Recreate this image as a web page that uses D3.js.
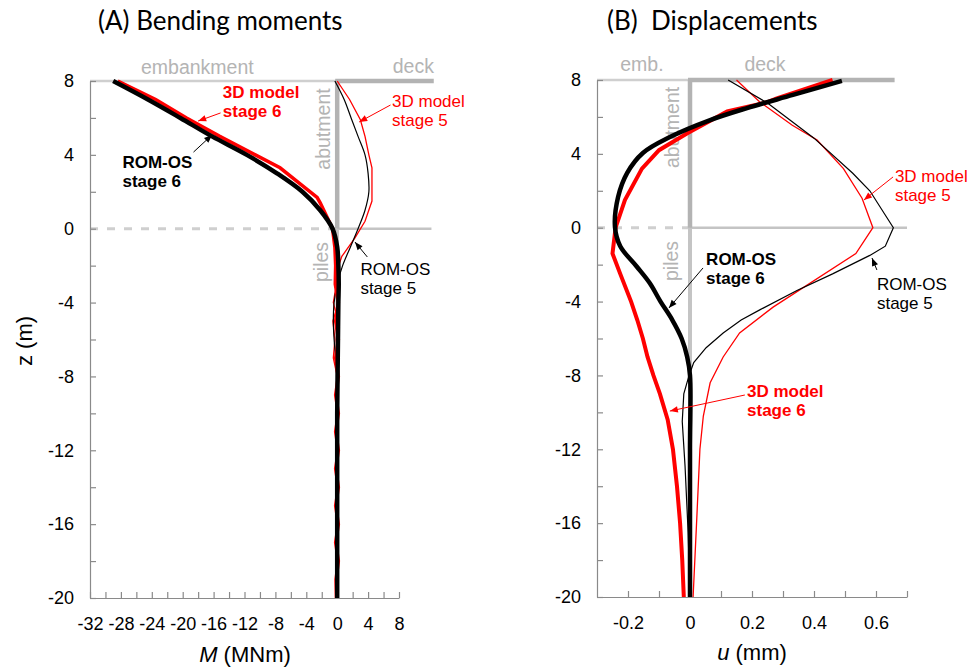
<!DOCTYPE html>
<html>
<head>
<meta charset="utf-8">
<script src="https://cdn.jsdelivr.net/npm/d3@7"></script>
<style>
  body { margin: 0; background: #fff; }
  svg { display: block; }
</style>
</head>
<body>
<script>
// tick labels
const momentTicks = [-32, -28, -24, -20, -16, -12, -8, -4, 0, 4, 8];
const dispTicks = [-0.2, 0, 0.2, 0.4, 0.6];
const depthTicks = [8, 4, 0, -4, -8, -12, -16, -20];

// (A) bending moments M (MNm) vs depth z (m)
const romS6MomZ = [8, 7, 6, 5, 4, 3, 2, 1, 0, -1, -2, -3, -4, -6, -8, -10, -14, -20];
const romS6Mom  = [-29, -24.5, -20.3, -16.2, -11.7, -7.8, -4.5, -2.2, -0.6, 0, 0.15, 0.2, 0.15, 0.1, 0.05, 0, 0, 0];

const fem6MomZ = [8, 7, 6, 5, 4, 3.3, 2.5, 1.7, 1.4, 0, -1, -2, -3, -4, -5, -6, -7, -8, -9, -10, -11, -12, -13, -14, -15, -16, -17, -18, -19, -20];
const fem6Mom  = [-28.4, -23.5, -19.5, -15.2, -10.6, -7.4, -5.0, -2.6, -2.2, -0.6, -0.3, -0.2, -0.25, 0.15, -0.2, 0.15, -0.2, 0.15, -0.2, 0.15, -0.2, 0.15, -0.2, 0.15, -0.2, 0.15, -0.2, 0.15, -0.15, -0.1];

const romS5MomZ = [8, 7, 6, 5, 4, 3, 2, 1, 0, -1, -2, -3, -4, -5, -6, -7, -8, -10, -14, -20];
const romS5Mom  = [-0.3, 0.9, 1.8, 2.7, 3.6, 4.0, 4.1, 3.6, 2.7, 1.7, 0.7, 0.0, -0.4, -0.5, -0.4, -0.2, 0, 0.05, 0, 0];

const fem5MomZ = [8, 7, 5.9, 5, 4, 3.3, 1.5, 0.4, -0.5, -1.5, -2, -3, -4, -4.5, -5, -6, -7, -8, -10, -20];
const fem5Mom  = [0, 1.6, 3.0, 3.6, 4.1, 4.5, 4.5, 3.6, 2.3, 0.6, 0.2, -0.1, -0.5, -0.2, -0.55, -0.3, -0.5, 0, 0.05, 0];

// (B) displacements u (mm) vs depth z (m)
const romS6DispZ = [7.95, 7.19, 6.48, 5.83, 4.91, 4.05, 2.96, 1.66, 0.04, -1, -2.1, -3, -4, -5, -6, -7, -8, -12, -20];
const romS6Disp  = [0.49, 0.332, 0.184, 0.065, -0.065, -0.152, -0.203, -0.232, -0.242, -0.225, -0.172, -0.13, -0.095, -0.057, -0.027, -0.009, 0, 0, 0];

const fem6DispZ = [8, 7, 6.8, 6.3, 5.1, 4.2, 3.2, 1.5, 0, -1.4, -2.5, -4, -5, -6, -7, -8, -9, -10.4, -12, -14, -16, -18, -20];
const fem6Disp  = [0.46, 0.28, 0.25, 0.12, -0.01, -0.1, -0.155, -0.21, -0.24, -0.25, -0.225, -0.19, -0.17, -0.152, -0.137, -0.118, -0.097, -0.072, -0.055, -0.042, -0.032, -0.025, -0.02];

const romS5DispZ = [8, 6.75, 4.85, 2.95, 2, 0, -1, -1.5, -2.5, -3.4, -4.45, -5, -5.7, -6.5, -7.3, -8, -9, -10.5, -12.9, -16.5, -20];
const romS5Disp  = [0.123, 0.25, 0.4, 0.525, 0.58, 0.656, 0.63, 0.58, 0.46, 0.345, 0.225, 0.165, 0.107, 0.052, 0.012, -0.003, -0.02, -0.025, -0.016, -0.006, 0];

const fem5DispZ = [8, 6.8, 5.55, 4.75, 3.2, 1.6, 0, -1.4, -4.3, -5.7, -7, -8.4, -10.2, -12, -15.7, -20];
const fem5Disp  = [0.15, 0.226, 0.33, 0.41, 0.495, 0.555, 0.59, 0.535, 0.268, 0.16, 0.107, 0.065, 0.043, 0.032, 0.022, 0.01];

const W = 971, H = 669;
const RED = '#ff0000';
const GRAY_TXT = '#b4b4b4';
const AXIS = '#8a8a8a';
const tickFont = '"Liberation Sans", Arial, sans-serif';
const titleFont = 'Lato, "Open Sans", sans-serif';

const svg = d3.select('body').append('svg')
  .attr('width', W)
  .attr('height', H)
  .style('background', '#fff');

const toPairs = (zs, vs) => zs.map((z, i) => [vs[i], z]);

// draws a small arrow ending at (x2, y2)
const arrow = (g, x1, y1, x2, y2, color) => {
  g.append('line')
    .attr('x1', x1).attr('y1', y1).attr('x2', x2).attr('y2', y2)
    .attr('stroke', color).attr('stroke-width', 1);
  const a = Math.atan2(y2 - y1, x2 - x1);
  const len = 8, hw = 3.2;
  const bx = x2 - len * Math.cos(a), by = y2 - len * Math.sin(a);
  const pts = [
    [x2, y2],
    [bx + hw * Math.sin(a), by - hw * Math.cos(a)],
    [bx - hw * Math.sin(a), by + hw * Math.cos(a)]
  ];
  g.append('polygon').attr('points', pts.map(p => p.join(',')).join(' ')).attr('fill', color);
};

// two line label
const label = (g, x, y, lines, color, bold) => {
  const t = g.append('text')
    .attr('x', x).attr('y', y)
    .attr('fill', color)
    .style('font-family', tickFont)
    .style('font-size', '17px')
    .style('font-weight', bold ? 'bold' : 'normal');
  lines.forEach((s, i) => t.append('tspan').attr('x', x).attr('dy', i === 0 ? 0 : 19).text(s));
};

const grayText = (g, x, y, s, rotate) => {
  const t = g.append('text')
    .attr('fill', GRAY_TXT)
    .style('font-family', tickFont)
    .style('font-size', '19.5px')
    .attr('text-anchor', 'middle')
    .text(s);
  if (rotate) t.attr('transform', `translate(${x},${y}) rotate(-90)`);
  else t.attr('x', x).attr('y', y);
};

const drawAxes = (g, x, y, xMinor, xTicks, yMinor, yTicks) => {
  const xAxis = d3.axisBottom(x)
    .tickValues(xMinor)
    .tickSize(-6)
    .tickPadding(19)
    .tickSizeOuter(0)
    .tickFormat(d => xTicks.some(t => Math.abs(t - d) < 1e-9) ? String(d) : '');
  const yAxis = d3.axisLeft(y)
    .tickValues(yMinor)
    .tickSize(-6)
    .tickPadding(16)
    .tickSizeOuter(0)
    .tickFormat(d => yTicks.includes(d) ? String(d) : '');
  const xg = g.append('g').attr('transform', `translate(0,${y.range()[1]})`).call(xAxis);
  const yg = g.append('g').attr('transform', `translate(${x.range()[0]},0)`).call(yAxis);
  [xg, yg].forEach(a => {
    a.selectAll('.domain').attr('stroke', AXIS).attr('stroke-width', 1.2);
    a.selectAll('.tick line').attr('stroke', AXIS).attr('stroke-width', 1.2);
    a.selectAll('.tick text').attr('fill', '#000')
      .style('font-family', tickFont).style('font-size', '18px');
  });
};

// ---------- Panel A ----------
const xM = d3.scaleLinear().domain([-32, 8]).range([90, 399]);
const yA = d3.scaleLinear().domain([8, -20]).range([81, 598]);
const gA = svg.append('g');

gA.append('text').attr('x', 98).attr('y', 30)
  .style('font-family', titleFont).style('font-size', '26px')
  .attr('fill', '#000').text('(A) Bending moments');

// structure lines
gA.append('line').attr('x1', xM(-32)).attr('x2', xM(0)).attr('y1', yA(8)).attr('y2', yA(8))
  .attr('stroke', '#cfcfcf').attr('stroke-width', 2.5);
gA.append('line').attr('x1', xM(-32)).attr('x2', xM(0)).attr('y1', yA(0)).attr('y2', yA(0))
  .attr('stroke', '#cfcfcf').attr('stroke-width', 3).attr('stroke-dasharray', '8,9');
gA.append('line').attr('x1', xM(0)).attr('x2', xM(12.2)).attr('y1', yA(0)).attr('y2', yA(0))
  .attr('stroke', '#c4c4c4').attr('stroke-width', 2.5);
gA.append('line').attr('x1', xM(0)).attr('x2', xM(0)).attr('y1', yA(0)).attr('y2', yA(-20))
  .attr('stroke', '#c4c4c4').attr('stroke-width', 3.5);
gA.append('line').attr('x1', xM(0)).attr('x2', xM(0)).attr('y1', yA(8)).attr('y2', yA(0))
  .attr('stroke', '#b3b3b3').attr('stroke-width', 4.5);
gA.append('line').attr('x1', xM(0) - 2).attr('x2', xM(12.5)).attr('y1', yA(8)).attr('y2', yA(8))
  .attr('stroke', '#b3b3b3').attr('stroke-width', 4.5);

grayText(gA, xM(-18.1), yA(8) - 7, 'embankment');
grayText(gA, xM(9.85), yA(8) - 8, 'deck');
grayText(gA, xM(0) - 7, yA(5.4), 'abutment', true);
grayText(gA, xM(0) - 9, yA(-1.8), 'piles', true);

drawAxes(gA, xM, yA, d3.range(-32, 9, 2), momentTicks, d3.range(-20, 9, 2), depthTicks);

const lineA = d3.line().x(d => xM(d[0])).y(d => yA(d[1]));
const lineASmooth = d3.line().x(d => xM(d[0])).y(d => yA(d[1])).curve(d3.curveCatmullRom);

gA.append('path').attr('d', lineA(toPairs(fem5MomZ, fem5Mom)))
  .attr('fill', 'none').attr('stroke', RED).attr('stroke-width', 1.3);
gA.append('path').attr('d', lineASmooth(toPairs(romS5MomZ, romS5Mom)))
  .attr('fill', 'none').attr('stroke', '#000').attr('stroke-width', 1.2);
gA.append('path').attr('d', lineA(toPairs(fem6MomZ, fem6Mom)))
  .attr('fill', 'none').attr('stroke', RED).attr('stroke-width', 3.5);
gA.append('path').attr('d', lineASmooth(toPairs(romS6MomZ, romS6Mom)))
  .attr('fill', 'none').attr('stroke', '#000').attr('stroke-width', 4.5);

label(gA, xM(-14.8), yA(7.08), ['3D model', 'stage 6'], RED, true);
arrow(gA, xM(-15.1), yA(6.27), xM(-18.0), yA(5.83), RED);
label(gA, xM(-27.8), yA(3.29), ['ROM-OS', 'stage 6'], '#000', true);
arrow(gA, xM(-18.6), yA(4.15), xM(-16.2), yA(5.08), '#000');
label(gA, xM(7.1), yA(6.59), ['3D model', 'stage 5'], RED, false);
arrow(gA, xM(6.9), yA(6.7), xM(2.85), yA(5.78), RED);
label(gA, xM(3.0), yA(-2.51), ['ROM-OS', 'stage 5'], '#000', false);
arrow(gA, xM(3.9), yA(-1.53), xM(2.3), yA(-0.72), '#000');

gA.append('text')
  .attr('transform', 'translate(32,341) rotate(-90)')
  .attr('text-anchor', 'middle')
  .style('font-family', tickFont).style('font-size', '22px')
  .text('z (m)');
const mLab = gA.append('text').attr('x', 245).attr('y', 662).attr('text-anchor', 'middle')
  .style('font-family', tickFont).style('font-size', '22px');
mLab.append('tspan').style('font-style', 'italic').text('M');
mLab.append('tspan').text(' (MNm)');

// ---------- Panel B ----------
const xU = d3.scaleLinear().domain([-0.3, 0.7]).range([597, 907]);
const yB = d3.scaleLinear().domain([8, -20]).range([80, 597]);
const gB = svg.append('g');

gB.append('text').attr('x', 607).attr('y', 30)
  .style('font-family', titleFont).style('font-size', '26px')
  .style('white-space', 'pre')
  .attr('fill', '#000').text('(B)  Displacements');

gB.append('line').attr('x1', xU(-0.3)).attr('x2', xU(0)).attr('y1', yB(8)).attr('y2', yB(8))
  .attr('stroke', '#cfcfcf').attr('stroke-width', 2.5);
gB.append('line').attr('x1', xU(-0.3)).attr('x2', xU(0)).attr('y1', yB(0)).attr('y2', yB(0))
  .attr('stroke', '#cfcfcf').attr('stroke-width', 3).attr('stroke-dasharray', '8,9');
gB.append('line').attr('x1', xU(0)).attr('x2', xU(0.7)).attr('y1', yB(0)).attr('y2', yB(0))
  .attr('stroke', '#c4c4c4').attr('stroke-width', 2.5);
gB.append('line').attr('x1', xU(0)).attr('x2', xU(0)).attr('y1', yB(0)).attr('y2', yB(-20))
  .attr('stroke', '#c4c4c4').attr('stroke-width', 4);
gB.append('line').attr('x1', xU(0)).attr('x2', xU(0)).attr('y1', yB(8)).attr('y2', yB(0))
  .attr('stroke', '#b3b3b3').attr('stroke-width', 4.5);
gB.append('line').attr('x1', xU(0) - 2).attr('x2', xU(0.66)).attr('y1', yB(8)).attr('y2', yB(8))
  .attr('stroke', '#b3b3b3').attr('stroke-width', 4.5);

grayText(gB, xU(-0.155), yB(8) - 9, 'emb.');
grayText(gB, xU(0.242), yB(8) - 9, 'deck');
grayText(gB, xU(0) - 11, yB(5.43), 'abutment', true);
grayText(gB, xU(0) - 12, yB(-1.8), 'piles', true);

drawAxes(gB, xU, yB, [-0.2, -0.1, 0, 0.1, 0.2, 0.3, 0.4, 0.5, 0.6, 0.7], dispTicks, d3.range(-20, 9, 2), depthTicks);

const lineB = d3.line().x(d => xU(d[0])).y(d => yB(d[1]));
const lineBSmooth = d3.line().x(d => xU(d[0])).y(d => yB(d[1])).curve(d3.curveCatmullRom);

gB.append('path').attr('d', lineB(toPairs(fem5DispZ, fem5Disp)))
  .attr('fill', 'none').attr('stroke', RED).attr('stroke-width', 1.3);
gB.append('path').attr('d', lineB(toPairs(romS5DispZ, romS5Disp)))
  .attr('fill', 'none').attr('stroke', '#000').attr('stroke-width', 1.2);
gB.append('path').attr('d', lineB(toPairs(fem6DispZ, fem6Disp)))
  .attr('fill', 'none').attr('stroke', RED).attr('stroke-width', 4);
gB.append('path').attr('d', lineBSmooth(toPairs(romS6DispZ, romS6Disp)))
  .attr('fill', 'none').attr('stroke', '#000').attr('stroke-width', 4.5);

label(gB, xU(0.661), yB(2.48), ['3D model', 'stage 5'], RED, false);
arrow(gB, xU(0.655), yB(2.75), xU(0.561), yB(1.5), RED);
label(gB, xU(0.603), yB(-3.37), ['ROM-OS', 'stage 5'], '#000', false);
arrow(gB, xU(0.603), yB(-2.29), xU(0.587), yB(-1.64), '#000');
label(gB, xU(0.052), yB(-2.02), ['ROM-OS', 'stage 6'], '#000', true);
arrow(gB, xU(0.042), yB(-2.18), xU(-0.068), yB(-4.35), '#000');
label(gB, xU(0.184), yB(-9.17), ['3D model', 'stage 6'], RED, true);
arrow(gB, xU(0.177), yB(-9.06), xU(-0.065), yB(-9.93), RED);

const uLab = gB.append('text').attr('x', 752).attr('y', 660).attr('text-anchor', 'middle')
  .style('font-family', tickFont).style('font-size', '22px');
uLab.append('tspan').style('font-style', 'italic').text('u');
uLab.append('tspan').text(' (mm)');
</script>
</body>
</html>
